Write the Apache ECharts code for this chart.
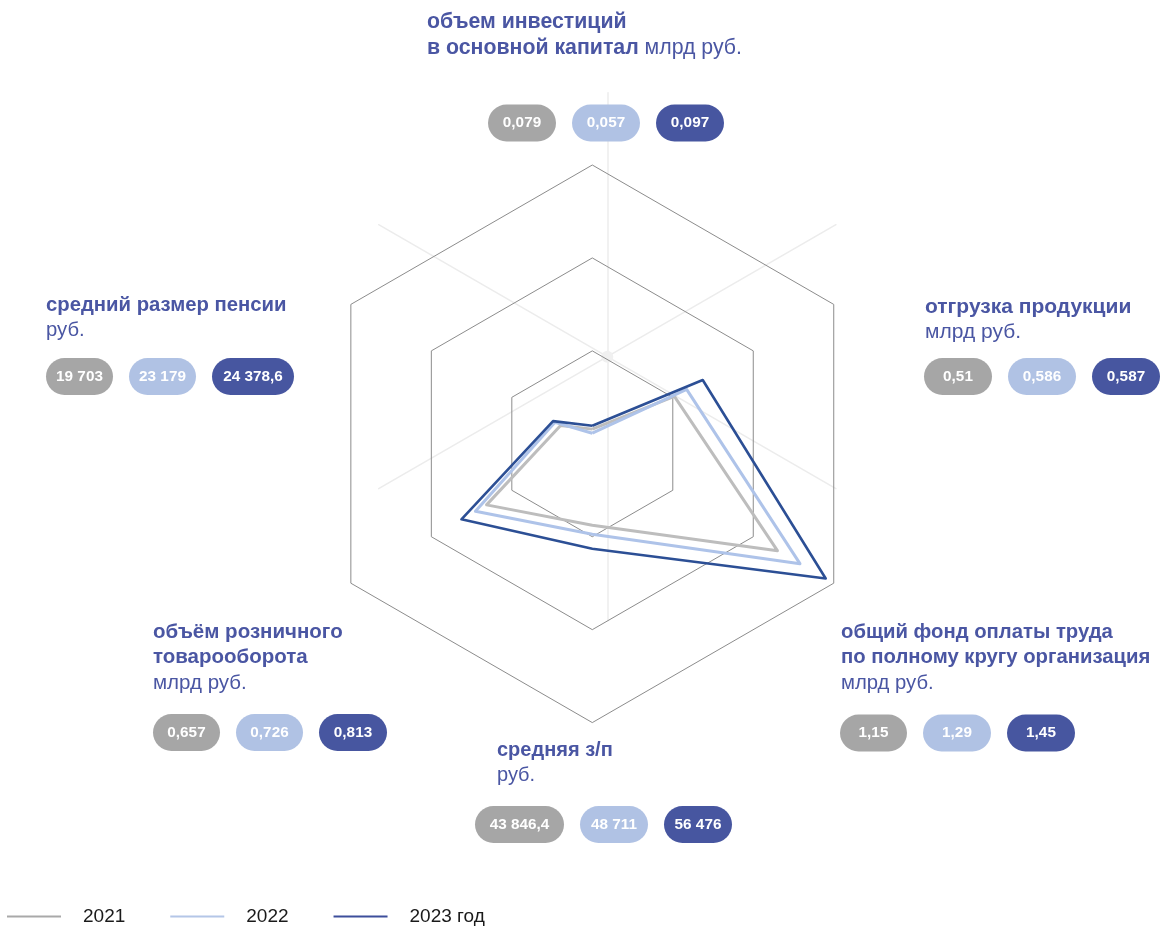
<!DOCTYPE html>
<html>
<head>
<meta charset="utf-8">
<script src="https://cdn.jsdelivr.net/npm/echarts@6/dist/echarts.min.js"></script>
<style>
html,body{margin:0;padding:0;background:#fff;}
#chart{width:1160px;height:927px;}
</style>
</head>
<body>
<div id="chart"></div>
<script>
// ---------- data ----------
const indicatorNames = ['объем инвестиций в основной капитал', 'средний размер пенсии', 'объём розничного товарооборота', 'средняя з/п', 'общий фонд оплаты труда по полному кругу организация', 'отгрузка продукции'];
const indicatorMax = [1.5, 150000, 1.5, 150000, 1.5, 1.5];
const seriesNames = ['2021', '2022', '2023 год'];
const values2021 = [0.079, 19703, 0.657, 43846.4, 1.15, 0.51];
const values2022 = [0.057, 23179, 0.726, 48711, 1.29, 0.586];
const values2023 = [0.097, 24378.6, 0.813, 56476, 1.45, 0.686];
const labels2021 = ['0,079', '19 703', '0,657', '43 846,4', '1,15', '0,51'];
const labels2022 = ['0,057', '23 179', '0,726', '48 711', '1,29', '0,586'];
const labels2023 = ['0,097', '24 378,6', '0,813', '56 476', '1,45', '0,587'];
// title lines per indicator: [bold part, regular part]
const titleLines = [
  [['объем инвестиций', ''], ['в основной капитал', ' млрд руб.']],
  [['средний размер пенсии', ''], ['', 'руб.']],
  [['объём розничного', ''], ['товарооборота', ''], ['', 'млрд руб.']],
  [['средняя з/п', ''], ['', 'руб.']],
  [['общий фонд оплаты труда', ''], ['по полному кругу организация', ''], ['', 'млрд руб.']],
  [['отгрузка продукции', ''], ['', 'млрд руб.']]
];

// ---------- styles / layout ----------
const FONT = '"Liberation Sans", Arial, Helvetica, sans-serif';
const lineColors = ['#bdbdbd', '#aec3e9', '#2c4f95'];
const legendColors = ['#a9a9a9', '#b4c6e7', '#3d4e9b'];
const pillColors = ['#a6a6a6', '#b0c2e4', '#4756a0'];
const titleColor = '#4a56a3';
// per indicator: title x, first line center y, font size, pill left x, pill center y, pill widths
const layout = [
  {tx: 427, ty: 22, fs: 21.3, px: 488, py: 123, pw: [68, 68, 68]},
  {tx: 46, ty: 305, fs: 20.3, px: 46, py: 376.5, pw: [67, 67, 82]},
  {tx: 153, ty: 632, fs: 20.5, px: 153, py: 732.5, pw: [67, 67, 68]},
  {tx: 497, ty: 750, fs: 20, px: 475, py: 824.5, pw: [89, 68, 68]},
  {tx: 841, ty: 632, fs: 20.3, px: 840, py: 733, pw: [67, 68, 68]},
  {tx: 925, ty: 307, fs: 21, px: 924, py: 376.5, pw: [68, 68, 68]}
];
const LINE_STEP = 25.7;
const PILL_H = 37;
const PILL_GAP = 16;

const graphics = [];
// faint center dot
graphics.push({type: 'circle', z: 1, shape: {cx: 607.3, cy: 356.7, r: 6}, style: {fill: '#f0f0f0'}, silent: true});

const allLabels = [labels2021, labels2022, labels2023];
titleLines.forEach(function (lines, i) {
  const L = layout[i];
  lines.forEach(function (ln, j) {
    let txt = '';
    if (ln[0]) txt += '{b|' + ln[0] + '}';
    if (ln[1]) txt += '{r|' + ln[1] + '}';
    graphics.push({
      type: 'text', z: 100, x: L.tx, y: L.ty + j * LINE_STEP,
      style: {
        text: txt, align: 'left', verticalAlign: 'middle', fill: titleColor,
        fontFamily: FONT, fontSize: L.fs,
        rich: {
          b: {fontFamily: FONT, fontSize: L.fs, fontWeight: 'bold', fill: titleColor, color: titleColor},
          r: {fontFamily: FONT, fontSize: L.fs, fontWeight: 'normal', fill: titleColor, color: titleColor}
        }
      }
    });
  });
  let x = L.px;
  for (let k = 0; k < 3; k++) {
    const w = L.pw[k];
    graphics.push({
      type: 'rect', z: 100,
      shape: {x: x, y: L.py - PILL_H / 2, width: w, height: PILL_H, r: PILL_H / 2},
      style: {fill: pillColors[k]}
    });
    graphics.push({
      type: 'text', z: 101, x: x + w / 2, y: L.py,
      style: {text: allLabels[k][i], align: 'center', verticalAlign: 'middle', fill: '#ffffff',
        fontFamily: FONT, fontSize: 15.3, fontWeight: 'bold'}
    });
    x += w + PILL_GAP;
  }
});

const chart = echarts.init(document.getElementById('chart'), null, {renderer: 'canvas'});
chart.setOption({
  animation: false,
  backgroundColor: '#ffffff',
  legend: {
    left: 7, top: 907, padding: 0,
    icon: 'rect', itemWidth: 54, itemHeight: 2, itemGap: 45,
    textStyle: {fontFamily: FONT, fontSize: 19, color: '#1a1a1a', padding: [0, 0, 0, 17]},
    data: seriesNames.map(function (n, i) { return {name: n, itemStyle: {color: legendColors[i], borderWidth: 0}}; })
  },
  radar: [
    {
      center: [592.3, 443.8], radius: 278.8, startAngle: 90, splitNumber: 3, shape: 'polygon', z: 2,
      indicator: indicatorNames.map(function (n, i) { return {name: n, min: 0, max: indicatorMax[i]}; }),
      axisName: {show: false},
      axisLine: {show: false},
      axisTick: {show: false},
      axisLabel: {show: false},
      splitArea: {show: false},
      splitLine: {lineStyle: {color: '#8c8c8c', width: 1}}
    },
    {
      center: [607.3, 356.7], radius: 264, startAngle: 90, splitNumber: 1, shape: 'polygon', z: 0,
      indicator: indicatorNames.map(function (n) { return {name: n, min: 0, max: 1}; }),
      axisName: {show: false},
      axisLine: {show: true, lineStyle: {color: '#ececec', width: 1.5}},
      axisTick: {show: false},
      axisLabel: {show: false},
      splitArea: {show: false},
      splitLine: {show: false}
    }
  ],
  series: [{
    type: 'radar', radarIndex: 0, symbol: 'none', z: 5,
    data: [values2021, values2022, values2023].map(function (v, i) {
      return {
        name: seriesNames[i], value: v,
        lineStyle: {color: lineColors[i], width: i === 2 ? 2.6 : 3},
        itemStyle: {color: legendColors[i]}
      };
    })
  }],
  graphic: graphics
});
</script>
</body>
</html>
